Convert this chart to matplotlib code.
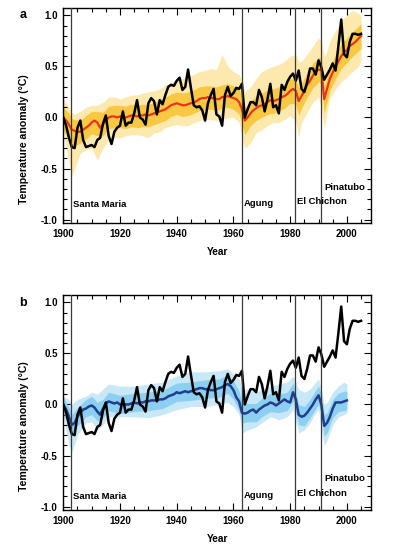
import matplotlib
matplotlib.use("Agg")
import matplotlib.pyplot as plt
from matplotlib.ticker import MultipleLocator, FixedLocator
import numpy as np

plt.rcParams['font.family'] = ['Liberation Sans', 'DejaVu Sans']
plt.rcParams['font.weight'] = 'bold'

# ---------------- data ----------------
years_obs = list(range(1900, 2006))
observed = [0.00, -0.08, -0.20, -0.29, -0.30, -0.10, -0.03, -0.22, -0.29, -0.28,
            -0.27, -0.29, -0.22, -0.20, -0.06, 0.02, -0.18, -0.26, -0.14, -0.10,
            -0.08, 0.06, -0.08, -0.05, -0.05, 0.04, 0.17, 0.00, -0.02, -0.07,
            0.14, 0.19, 0.16, 0.03, 0.17, 0.13, 0.22, 0.30, 0.32, 0.31,
            0.36, 0.39, 0.27, 0.30, 0.47, 0.29, 0.12, 0.10, 0.11, 0.07,
            -0.03, 0.14, 0.22, 0.28, 0.03, 0.01, -0.08, 0.22, 0.30, 0.21,
            0.24, 0.29, 0.28, 0.33, 0.00, 0.08, 0.15, 0.15, 0.12, 0.27,
            0.20, 0.06, 0.18, 0.33, 0.10, 0.12, 0.04, 0.32, 0.27, 0.35,
            0.40, 0.43, 0.36, 0.46, 0.28, 0.25, 0.35, 0.48, 0.48, 0.42,
            0.56, 0.49, 0.37, 0.42, 0.47, 0.53, 0.46, 0.70, 0.96, 0.62,
            0.59, 0.74, 0.82, 0.82, 0.81, 0.82]

years_all = list(range(1900, 2006))
all_forcing_mean = [0.00, -0.03, -0.07, -0.12, -0.13, -0.14, -0.14, -0.12, -0.10, -0.08,
                    -0.05, -0.03, -0.05, -0.10, -0.07, -0.03, 0.00, 0.01, 0.01, 0.00,
                    0.01, 0.01, 0.00, 0.01, 0.02, 0.02, 0.01, 0.02, 0.02, 0.03,
                    0.02, 0.03, 0.04, 0.05, 0.06, 0.07, 0.08, 0.10, 0.12, 0.13,
                    0.14, 0.13, 0.12, 0.12, 0.13, 0.14, 0.15, 0.16, 0.18, 0.19,
                    0.19, 0.20, 0.19, 0.19, 0.18, 0.18, 0.20, 0.20, 0.21, 0.20,
                    0.19, 0.18, 0.15, 0.08, -0.03, 0.00, 0.04, 0.07, 0.09, 0.11,
                    0.12, 0.13, 0.15, 0.17, 0.16, 0.17, 0.18, 0.20, 0.21, 0.23,
                    0.26, 0.28, 0.26, 0.16, 0.21, 0.26, 0.32, 0.36, 0.41, 0.45,
                    0.47, 0.46, 0.18, 0.28, 0.38, 0.44, 0.50, 0.55, 0.60, 0.64,
                    0.66, 0.70, 0.72, 0.74, 0.77, 0.80]

env_years_a = [1900, 1902, 1903, 1904, 1906, 1908, 1910, 1912, 1914, 1916, 1918, 1920,
               1922, 1924, 1926, 1928, 1930, 1932, 1934, 1936, 1938, 1940, 1942, 1944,
               1946, 1948, 1950, 1952, 1954, 1956, 1958, 1960, 1962, 1963, 1964, 1966,
               1968, 1970, 1972, 1974, 1976, 1978, 1980, 1982, 1983, 1984, 1986, 1988,
               1990, 1991, 1992, 1993, 1994, 1996, 1998, 2000, 2002, 2004, 2005]
a_outer_hi = [0.18, 0.10, 0.05, 0.03, 0.06, 0.10, 0.12, 0.12, 0.15, 0.20, 0.20, 0.18,
              0.20, 0.22, 0.22, 0.24, 0.25, 0.26, 0.28, 0.32, 0.34, 0.36, 0.38, 0.40,
              0.42, 0.45, 0.46, 0.48, 0.47, 0.62, 0.50, 0.45, 0.42, 0.35, 0.25, 0.30,
              0.38, 0.45, 0.48, 0.50, 0.52, 0.55, 0.60, 0.62, 0.55, 0.55, 0.62, 0.70,
              0.78, 0.75, 0.60, 0.65, 0.75, 0.85, 0.95, 1.00, 1.05, 1.02, 1.00]
a_outer_lo = [-0.12, -0.45, -0.58, -0.50, -0.35, -0.32, -0.30, -0.42, -0.30, -0.22, -0.20, -0.20,
              -0.18, -0.17, -0.17, -0.18, -0.20, -0.15, -0.14, -0.10, -0.08, -0.07, -0.08, -0.08,
              -0.05, -0.03, -0.02, -0.02, -0.03, -0.02, 0.00, 0.00, -0.05, -0.20, -0.30, -0.25,
              -0.15, -0.12, -0.08, -0.05, -0.05, -0.02, 0.02, -0.05, -0.20, -0.05, 0.05, 0.15,
              0.20, 0.10, -0.12, 0.05, 0.18, 0.28, 0.35, 0.40, 0.45, 0.50, 0.55]
a_inner_hi = [0.10, 0.04, -0.01, -0.02, -0.03, 0.02, 0.06, 0.06, 0.05, 0.11, 0.12, 0.12,
              0.11, 0.13, 0.12, 0.13, 0.13, 0.15, 0.17, 0.20, 0.23, 0.25, 0.24, 0.25,
              0.27, 0.30, 0.31, 0.31, 0.30, 0.32, 0.33, 0.31, 0.27, 0.20, 0.09, 0.16,
              0.21, 0.24, 0.27, 0.28, 0.30, 0.33, 0.38, 0.38, 0.29, 0.33, 0.44, 0.53,
              0.59, 0.58, 0.31, 0.40, 0.50, 0.62, 0.72, 0.78, 0.84, 0.89, 0.92]
a_inner_lo = [-0.12, -0.22, -0.30, -0.28, -0.25, -0.21, -0.16, -0.18, -0.18, -0.11, -0.10, -0.10,
              -0.11, -0.09, -0.10, -0.09, -0.09, -0.07, -0.05, -0.03, 0.01, 0.03, 0.01, 0.02,
              0.04, 0.07, 0.08, 0.08, 0.07, 0.09, 0.10, 0.08, 0.03, -0.06, -0.17, -0.08,
              -0.03, 0.00, 0.03, 0.04, 0.06, 0.09, 0.14, 0.13, 0.02, 0.09, 0.20, 0.29,
              0.35, 0.33, 0.04, 0.15, 0.26, 0.38, 0.48, 0.54, 0.60, 0.65, 0.68]

years_nat = list(range(1900, 2001))
natural_mean = [0.00, -0.05, -0.12, -0.20, -0.18, -0.12, -0.08, -0.05, -0.04, -0.02,
                -0.01, -0.03, -0.07, -0.10, -0.04, 0.01, 0.03, 0.02, 0.01, 0.02,
                0.00, 0.01, 0.00, 0.00, 0.01, 0.02, 0.01, 0.02, 0.02, 0.03,
                0.03, 0.04, 0.04, 0.04, 0.05, 0.05, 0.06, 0.08, 0.09, 0.10,
                0.12, 0.11, 0.12, 0.13, 0.12, 0.13, 0.14, 0.15, 0.16, 0.16,
                0.15, 0.15, 0.14, 0.14, 0.15, 0.16, 0.17, 0.19, 0.20, 0.18,
                0.14, 0.07, 0.03, -0.08, -0.09, -0.08, -0.06, -0.05, -0.08, -0.05,
                -0.03, -0.01, 0.00, 0.02, 0.01, -0.01, 0.01, 0.03, 0.05, 0.03,
                0.02, 0.12, 0.05, -0.10, -0.12, -0.11, -0.08, -0.04, 0.00, 0.05,
                0.09, 0.00, -0.21, -0.18, -0.12, -0.04, 0.02, 0.02, 0.02, 0.03,
                0.04]

env_years_b = [1900, 1902, 1903, 1905, 1908, 1910, 1912, 1914, 1916, 1920, 1925, 1930,
               1935, 1940, 1945, 1950, 1955, 1958, 1960, 1962, 1963, 1965, 1968, 1970,
               1973, 1976, 1979, 1981, 1983, 1985, 1987, 1989, 1990, 1991, 1992, 1993,
               1995, 1997, 1999, 2000]
b_outer_hi = [0.08, 0.05, 0.00, 0.05, 0.08, 0.12, 0.10, 0.15, 0.20, 0.18, 0.18, 0.20,
              0.22, 0.28, 0.32, 0.32, 0.33, 0.35, 0.30, 0.25, 0.15, 0.15, 0.12, 0.15,
              0.18, 0.20, 0.22, 0.28, 0.15, 0.12, 0.15, 0.22, 0.25, 0.15, 0.00, 0.02,
              0.12, 0.18, 0.22, 0.20]
b_outer_lo = [-0.10, -0.40, -0.47, -0.30, -0.18, -0.17, -0.25, -0.20, -0.12, -0.12, -0.12, -0.13,
              -0.10, -0.05, -0.02, -0.02, 0.00, 0.02, -0.02, -0.10, -0.28, -0.25, -0.22, -0.18,
              -0.12, -0.15, -0.12, -0.05, -0.28, -0.25, -0.18, -0.08, -0.05, -0.25, -0.40, -0.35,
              -0.20, -0.12, -0.10, -0.08]
b_inner_hi = [0.07, -0.03, -0.10, -0.03, 0.05, 0.08, 0.02, 0.05, 0.12, 0.09, 0.11, 0.12,
              0.14, 0.21, 0.22, 0.24, 0.25, 0.29, 0.23, 0.13, 0.02, 0.01, 0.01, 0.06,
              0.11, 0.10, 0.12, 0.21, 0.00, -0.02, 0.05, 0.14, 0.18, 0.10, -0.10, -0.08,
              0.05, 0.11, 0.13, 0.13]
b_inner_lo = [-0.08, -0.22, -0.30, -0.21, -0.12, -0.10, -0.16, -0.13, -0.06, -0.09, -0.07, -0.06,
              -0.04, 0.03, 0.04, 0.06, 0.07, 0.11, 0.05, -0.06, -0.18, -0.17, -0.17, -0.12,
              -0.07, -0.08, -0.06, 0.03, -0.20, -0.21, -0.13, -0.04, 0.00, -0.10, -0.31, -0.28,
              -0.13, -0.07, -0.06, -0.05]

volcano_names = ['Santa Maria', 'Agung', 'El Chichon', 'Pinatubo']
volcano_years = [1902.7, 1962.9, 1981.7, 1990.9]
label_x_a = [1903.3, 1963.7, 1982.5, 1992.0]
label_y_a = [-0.85, -0.84, -0.82, -0.69]
label_y_b = [-0.90, -0.89, -0.87, -0.73]

x_ticks = [1900, 1920, 1940, 1960, 1980, 2000]
x_ticklabels = ['1900', '1920', '1940', '1960', '1980', '2000']
y_ticks = [-1.0, -0.5, 0.0, 0.5, 1.0]
y_ticklabels = ['-1.0', '-0.5', '0.0', '0.5', '1.0']

# ---------------- figure ----------------
W, H = 398, 549
fig = plt.figure(figsize=(W / 100, H / 100), dpi=100)

def px_axes(left, top, right, bottom):
    return fig.add_axes([left / W, 1 - bottom / H, (right - left) / W, (bottom - top) / H])

ax_a = px_axes(63.3, 8.3, 371.0, 223.3)
ax_b = px_axes(63.3, 295.3, 371.0, 510.3)

def style(ax):
    ax.set_xlim(1900, 2008.5)
    ax.set_ylim(-1.037, 1.07)
    ax.xaxis.set_major_locator(FixedLocator(x_ticks))
    ax.set_xticklabels(x_ticklabels)
    ax.xaxis.set_minor_locator(MultipleLocator(5))
    ax.yaxis.set_major_locator(FixedLocator(y_ticks))
    ax.set_yticklabels(y_ticklabels)
    ax.yaxis.set_minor_locator(MultipleLocator(0.1))
    ax.tick_params(which='both', direction='in', top=True, right=True,
                   labelsize=7, width=0.8, colors='black')
    ax.tick_params(which='major', length=5, pad=4)
    ax.tick_params(which='minor', length=3)
    for lab in ax.get_xticklabels() + ax.get_yticklabels():
        lab.set_fontweight('bold')
    for s in ax.spines.values():
        s.set_linewidth(1.0)
        s.set_color('black')
    ax.set_xlabel('Year', fontsize=7.3, fontweight='bold', labelpad=6)
    for vy in volcano_years:
        ax.axvline(vy, color='#3a3a3a', lw=0.9, zorder=5)

# panel a
ax_a.fill_between(env_years_a, a_outer_lo, a_outer_hi, color='#fde9ae', lw=0, zorder=1)
ax_a.fill_between(env_years_a, a_inner_lo, a_inner_hi, color='#f9c843', lw=0, zorder=2)
ax_a.plot(years_all, all_forcing_mean, color='#e8341c', lw=1.6, zorder=3)
ax_a.plot(years_obs, observed, color='black', lw=1.8, zorder=4)
style(ax_a)

# panel b
ax_b.fill_between(env_years_b, b_outer_lo, b_outer_hi, color='#c8e8f7', lw=0, zorder=1)
ax_b.fill_between(env_years_b, b_inner_lo, b_inner_hi, color='#8dcff0', lw=0, zorder=2)
ax_b.plot(years_nat, natural_mean, color='#1e3f8e', lw=1.8, zorder=3)
ax_b.plot(years_obs, observed, color='black', lw=1.8, zorder=4)
style(ax_b)

for name, lx, ly in zip(volcano_names, label_x_a, label_y_a):
    ax_a.text(lx, ly, name, fontsize=6.8, fontweight='bold', ha='left', va='center', zorder=6)
for name, lx, ly in zip(volcano_names, label_x_a, label_y_b):
    ax_b.text(lx, ly, name, fontsize=6.8, fontweight='bold', ha='left', va='center', zorder=6)

fig.text(24 / W, 1 - 139 / H, 'Temperature anomaly (°C)', rotation=90, fontsize=7.6,
         fontweight='bold', ha='center', va='center')
fig.text(24 / W, 1 - 426 / H, 'Temperature anomaly (°C)', rotation=90, fontsize=7.6,
         fontweight='bold', ha='center', va='center')
fig.text(22.7 / W, 1 - 15 / H, 'a', fontsize=9, fontweight='bold', ha='center', va='center')
fig.text(22.7 / W, 1 - 303 / H, 'b', fontsize=9, fontweight='bold', ha='center', va='center')

fig.savefig('out.png', dpi=100)
